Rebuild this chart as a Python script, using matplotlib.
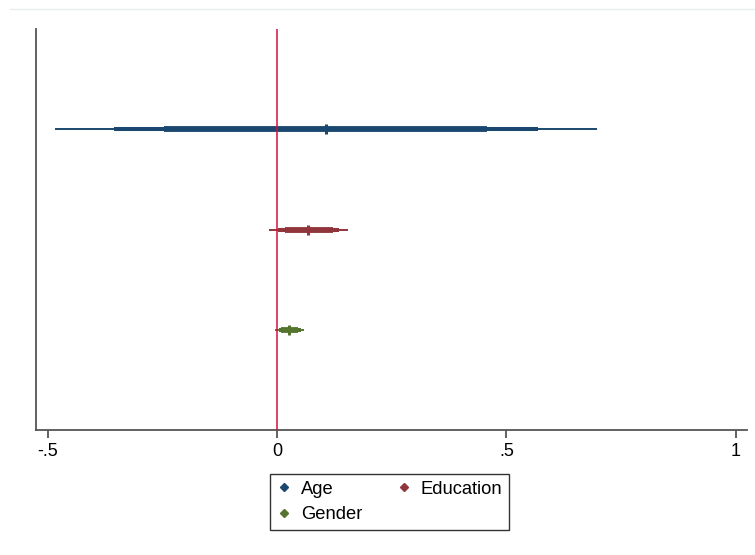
import matplotlib.pyplot as plt
from matplotlib.lines import Line2D

plt.rcParams['font.family'] = ['Liberation Sans', 'DejaVu Sans']

# coefficient estimates with three nested confidence bands
labels = ['Age', 'Education', 'Gender']
ypos = [3, 2, 1]
colors = ['#1a476f', '#90353b', '#55752f']
point = [0.106, 0.068, 0.026]
ci_thick_lo = [-0.246, 0.017, 0.008]
ci_thick_hi = [0.458, 0.122, 0.045]
ci_mid_lo = [-0.355, 0.002, 0.003]
ci_mid_hi = [0.569, 0.135, 0.052]
ci_thin_lo = [-0.485, -0.017, -0.004]
ci_thin_hi = [0.697, 0.155, 0.058]
xticks = [-0.5, 0, 0.5, 1]
xticklabels = ['-.5', '0', '.5', '1']

fig = plt.figure(figsize=(7.55, 5.55), dpi=100)
ax = fig.add_axes([0.0477, 0.2252, 0.9413, 0.7225])

for i, lab in enumerate(labels):
    y = ypos[i]
    c = colors[i]
    ax.plot([ci_thin_lo[i], ci_thin_hi[i]], [y, y], color=c, lw=1.4, solid_capstyle='butt')
    ax.plot([ci_mid_lo[i], ci_mid_hi[i]], [y, y], color=c, lw=2.9, solid_capstyle='butt')
    ax.plot([ci_thick_lo[i], ci_thick_hi[i]], [y, y], color=c, lw=4.2, solid_capstyle='butt')
    ax.plot([point[i]], [y], marker='|', color=c, ms=7, mew=2.2)

ax.axvline(0, color='#d40f3c', lw=1.1, zorder=5)

ax.set_xlim(-0.526, 1.024)
ax.set_ylim(0, 4)
ax.set_xticks(xticks)
ax.set_xticklabels(xticklabels)
ax.set_yticks([])
ax.spines['top'].set_visible(False)
ax.spines['right'].set_visible(False)
for s in ['left', 'bottom']:
    ax.spines[s].set_color('#555555')
    ax.spines[s].set_linewidth(1.3)
ax.tick_params(axis='x', length=6, width=1.3, color='#555555', labelsize=13, pad=3)

# legend fills column-wise, so reorder to get Age, Education / Gender
handles = [Line2D([], [], marker='D', ls='', color=c, ms=4) for c in colors]
order = [0, 2, 1]
fig.legend([handles[k] for k in order], [labels[k] for k in order], ncol=2,
           loc='center', bbox_to_anchor=(0.516, 0.0955),
           fontsize=13.2, frameon=True, fancybox=False, edgecolor='#333333',
           handlelength=0.8, handletextpad=0.5, columnspacing=1.9, labelspacing=0.45,
           borderpad=0.35, framealpha=1)

fig.add_artist(Line2D([0.013, 1.0], [0.984, 0.984], color='#e6eded', lw=1.0))

fig.savefig('out.png', dpi=100)
